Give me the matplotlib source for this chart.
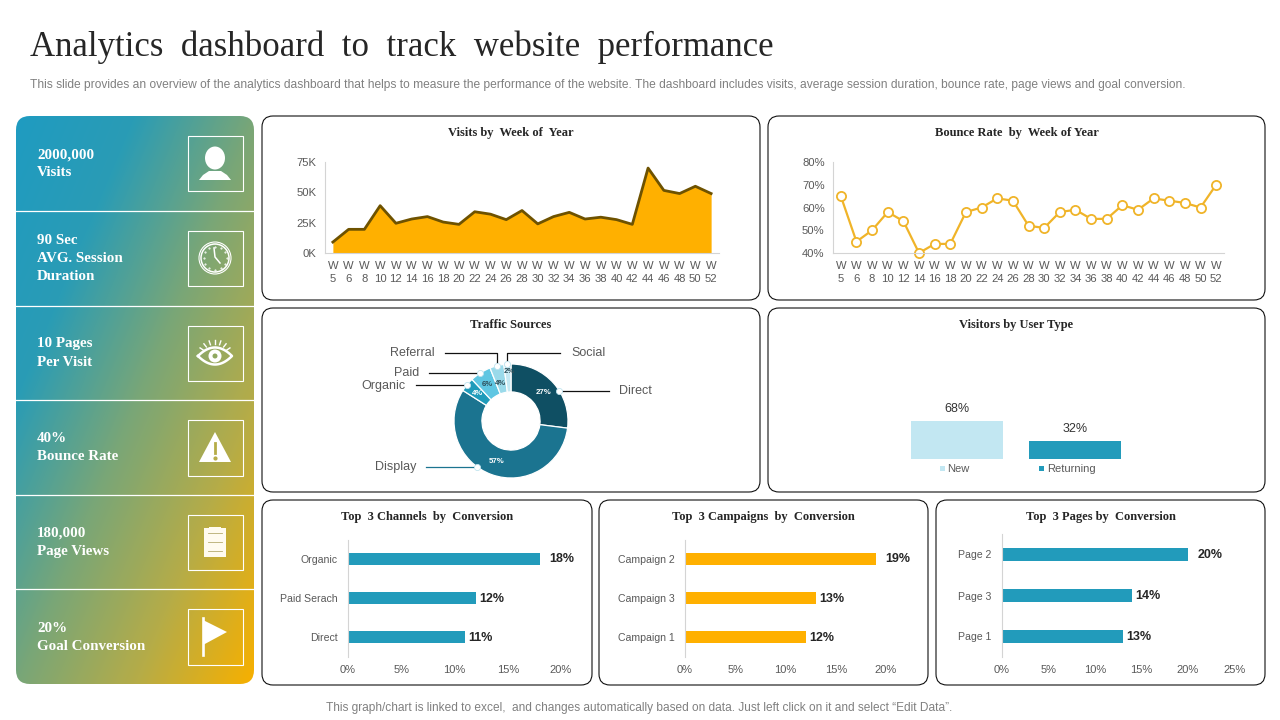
import numpy as np
import matplotlib
matplotlib.use('Agg')
import matplotlib.pyplot as plt
from matplotlib.colors import LinearSegmentedColormap
from matplotlib.patches import FancyBboxPatch, Circle, Rectangle, Polygon, Ellipse

plt.rcParams['font.family'] = ['Liberation Sans', 'DejaVu Sans']

W, H = 1280, 720

# data
weeks = [5, 6, 8, 10, 12, 14, 16, 18, 20, 22, 24, 26, 28, 30, 32, 34, 36, 38, 40, 42, 44, 46, 48, 50, 52]
week_labels = [f'W\n{w}' for w in weeks]
visits = [9, 19.5, 19.5, 39, 24.5, 28, 30, 25.5, 23.6, 34, 32, 27.5, 35, 24, 30, 33.5, 28, 29.5, 27.5, 23.6, 70, 51.6, 49, 55, 49]
bounce = [65, 45, 50, 58, 54, 40, 44, 44, 58, 60, 64, 63, 52, 51, 58, 59, 55, 55, 61, 59, 64, 63, 62, 60, 70]

traffic_names = ['Direct', 'Display', 'Organic', 'Paid', 'Referral', 'Social']
traffic_vals = [27, 57, 4, 6, 4, 2]
traffic_colors = ['#0F4F63', '#1B7490', '#1F9BBA', '#5FC6E2', '#9ADAEA', '#C5E9F3']

user_types = ['New', 'Returning']
user_vals = [68, 32]

channels = ['Organic', 'Paid Serach', 'Direct']
channel_vals = [18, 12, 11]
campaigns = ['Campaign 2', 'Campaign 3', 'Campaign 1']
campaign_vals = [19, 13, 12]
pages = ['Page 2', 'Page 3', 'Page 1']
page_vals = [20, 14, 13]

kpi_text = [
    ('2000,000\nVisits', 164),
    ('90 Sec\nAVG. Session\nDuration', 258.5),
    ('10 Pages\nPer Visit', 353),
    ('40%\nBounce Rate', 448),
    ('180,000\nPage Views', 542),
    ('20%\nGoal Conversion', 637),
]

GREY = '#595959'
AXIS = '#D4D4D4'
SERIF = 'Liberation Serif'

fig = plt.figure(figsize=(W / 100, H / 100), dpi=100, facecolor='white')


def px_axes(l, t, r, b, z=2):
    # axes placed by reference pixel box
    ax = fig.add_axes([l / W, 1 - b / H, (r - l) / W, (b - t) / H], zorder=z)
    ax.patch.set_alpha(0)
    return ax


def overlay(z):
    ax = fig.add_axes([0, 0, 1, 1], zorder=z)
    ax.patch.set_alpha(0)
    ax.axis('off')
    ax.set_xlim(0, W)
    ax.set_ylim(H, 0)
    return ax


bg = overlay(0)
top = overlay(5)

# title block
bg.text(30, 56, 'Analytics  dashboard  to  track  website  performance', family=SERIF, fontsize=25.05,
        color='#262626', va='baseline')
bg.text(30, 85.3, 'This slide provides an overview of the analytics dashboard that helps to measure the performance of the website. '
        'The dashboard includes visits, average session duration, bounce rate, page views and goal conversion.',
        fontsize=8.62, color='#808080', va='center')
bg.text(639.5, 708.5, 'This graph/chart is linked to excel,  and changes automatically based on data. Just left click on it and select \u201cEdit Data\u201d.',
        fontsize=8.6, color='#808080', va='center', ha='center')

# gradient KPI panel
cmap = LinearSegmentedColormap.from_list('kpi', [(0, '#1F9BC1'), (0.25, '#2A9CB5'), (0.5, '#78A678'),
                                                 (0.75, '#B5AC48'), (1, '#F7B000')])
xx, yy = np.meshgrid(np.linspace(0, 1, 240), np.linspace(0, 1, 570))
im = bg.imshow(0.5 * xx + 0.5 * yy, cmap=cmap, extent=(16, 254, 684, 116), aspect='auto', vmin=0, vmax=1)
clip = FancyBboxPatch((16, 116), 238, 568, boxstyle='round,pad=0,rounding_size=14', fc='none', ec='none')
bg.add_patch(clip)
im.set_clip_path(clip)
bg.set_xlim(0, W)
bg.set_ylim(H, 0)

for y in [211, 305.5, 400, 495, 589]:
    bg.plot([16, 254], [y, y], color='white', lw=0.9)
for s, y in kpi_text:
    bg.text(37, y, s, family=SERIF, fontweight='bold', fontsize=10.8, color='white', va='center', linespacing=1.5)
for y0, y1 in [(136, 191), (231, 286), (326, 381), (420, 476), (515, 570), (609, 665)]:
    bg.add_patch(Rectangle((188, y0), 54.5, y1 - y0, fc='none', ec='white', lw=0.8))

# icons
bg.add_patch(Polygon([(199, 180), (203, 175), (209, 171), (221, 171), (227, 175), (231, 180)], fc='white', ec='none'))
bg.add_patch(Ellipse((215, 158), 20, 23, fc='white', ec='none'))

bg.add_patch(Circle((215, 258), 16, fc='none', ec='white', lw=0.8))
bg.add_patch(Circle((215, 258), 14, fc='none', ec='white', lw=1.1))
bg.plot([214, 215, 220], [248, 257, 263], color='white', lw=1.1)
for a in np.arange(0, 360, 30):
    r = np.radians(a)
    bg.plot([215 + 11.5 * np.sin(r)], [258 - 11.5 * np.cos(r)], '.', color='white', ms=1)

t = np.linspace(-1, 1, 40)
ex = 215 + 17 * t
bg.plot(np.r_[ex, ex[::-1]], np.r_[356 - 8.5 * (1 - t ** 2), (356 + 8.5 * (1 - t ** 2))[::-1]], color='white', lw=1.8)
bg.add_patch(Circle((215, 356), 6.5, fc='white', ec='none'))
bg.add_patch(Circle((215, 356), 2.5, fc='#8FA860', ec='none'))
for a in [-56, -38, -19, 0, 19, 38, 56]:
    r = np.radians(a)
    bg.plot([215 + 14 * np.sin(r), 215 + 18 * np.sin(r)], [358 - 14 * np.cos(r), 358 - 18 * np.cos(r)], color='white', lw=1)

bg.add_patch(Polygon([(215, 432), (199, 462), (231, 462)], fc='white', ec='none'))
bg.plot([215, 215], [443, 453], color='#B5AC48', lw=2)
bg.plot([215], [457.5], 'o', color='#B5AC48', ms=2)

bg.add_patch(Rectangle((204, 528), 22, 29, fc='#FFFBEF', ec='none'))
bg.add_patch(Rectangle((209, 526.5), 12, 3, fc='#FFFBEF', ec='none'))
for y in [533, 542, 551]:
    bg.plot([208, 222], [y, y], color='#B5AC70', lw=0.6)

bg.plot([203, 203], [618, 655], color='white', lw=1.9)
bg.add_patch(Polygon([(203, 620), (227, 632), (203, 645)], fc='white', ec='none'))

# chart frames and headings
frames = [
    (262, 116, 760, 300, 'Visits by  Week of  Year'),
    (768, 116, 1265, 300, 'Bounce Rate  by  Week of Year'),
    (262, 308, 760, 492, 'Traffic Sources'),
    (768, 308, 1265, 492, 'Visitors by User Type'),
    (262, 500, 592, 685, 'Top  3 Channels  by  Conversion'),
    (599, 500, 928, 685, 'Top  3 Campaigns  by  Conversion'),
    (936, 500, 1265, 685, 'Top  3 Pages by  Conversion'),
]
for l, t_, r, b, name in frames:
    bg.add_patch(FancyBboxPatch((l, t_), r - l, b - t_, boxstyle='round,pad=0,rounding_size=11', fc='white', ec='#111111', lw=0.8))
    bg.text((l + r) / 2, t_ + 20, name, family=SERIF, fontweight='bold', fontsize=9, color='#262626', ha='center', va='baseline')


def week_axis(ax, ylim, yticks, ylabels):
    ax.set_xlim(-0.5, len(weeks) - 0.5)
    ax.set_ylim(*ylim)
    ax.set_xticks(range(len(weeks)))
    ax.set_xticklabels(week_labels, fontsize=8.1, color=GREY, linespacing=1.35)
    ax.set_yticks(yticks)
    ax.set_yticklabels(ylabels, fontsize=8.1, color=GREY)
    ax.tick_params(axis='both', length=0)
    ax.tick_params(axis='x', pad=5.8)
    ax.tick_params(axis='y', pad=6)
    for s in ['top', 'right']:
        ax.spines[s].set_visible(False)
    for s in ['left', 'bottom']:
        ax.spines[s].set_color(AXIS)
        ax.spines[s].set_linewidth(0.8)


# visits area
ax = px_axes(325, 162, 719, 253)
xs = np.arange(len(weeks))
ax.fill_between(xs, visits, 0, color='#FFB000', lw=0)
ax.plot(xs, visits, color='#6E5200', lw=2)
week_axis(ax, (0, 75), [0, 25, 50, 75], ['0K', '25K', '50K', '75K'])

# bounce line
ax = px_axes(833, 162, 1224, 253)
ax.plot(xs, bounce, color='#F0B429', lw=1.6, marker='o', ms=6.6, mfc='white', mec='#F0B429', mew=1.3, clip_on=False)
week_axis(ax, (40, 80), [40, 50, 60, 70, 80], ['40%', '50%', '60%', '70%', '80%'])

# traffic donut
ax = px_axes(454, 364, 568, 478)
wedges, texts, autotexts = ax.pie(traffic_vals, colors=traffic_colors, startangle=90, counterclock=False, radius=1,
                                  autopct='%d%%', pctdistance=0.76,
                                  wedgeprops=dict(width=0.49, edgecolor='white', linewidth=0.9),
                                  textprops=dict(fontsize=5.6, fontweight='bold'))
for i, a in enumerate(autotexts):
    a.set_color('white' if i < 3 else '#2F4F5A')
# the two smallest slices would collide, so their labels sit as in the slide
autotexts[4].set_position((-0.18, 0.66))
autotexts[5].set_position((-0.02, 0.86))
ax.set_xlim(-1, 1)
ax.set_ylim(-1, 1)

leaders = [
    ([558.5, 609], [391, 391], '#111111', 619, 391.5, 'Direct', 'left'),
    ([477, 426], [466.5, 466.5], '#1B7490', 416, 467, 'Display', 'right'),
    ([467, 416], [385, 385], '#111111', 406, 385.5, 'Organic', 'right'),
    ([480, 429], [373, 373], '#111111', 419, 373.5, 'Paid', 'right'),
    ([497, 497, 445], [366, 353, 353], '#111111', 435, 353.5, 'Referral', 'right'),
    ([507, 507, 560], [364, 353, 353], '#111111', 571, 353.5, 'Social', 'left'),
]
for lx, ly, col, tx, ty, name, ha in leaders:
    top.plot(lx, ly, color=col, lw=0.9)
    top.plot(lx[0], ly[0], 'o', ms=4.4, mfc='white', mec='#BFE3EE', mew=0.6)
    top.text(tx, ty, name, fontsize=9, color=GREY, ha=ha, va='center')

# user type columns
ax = px_axes(898, 403, 1134, 459)
ax.bar([0, 1], user_vals, width=0.785, color=['#C2E7F2', '#229BBB'])
ax.set_xlim(-0.5, 1.5)
ax.set_ylim(0, 100)
ax.axis('off')
for i, v in enumerate(user_vals):
    ax.annotate(f'{v}%', (i, v), xytext=(0, 4.5), textcoords='offset points', ha='center', va='bottom',
                fontsize=9, color='#333333', annotation_clip=False)
for sx, tx, col, name in [(940, 947, '#C2E7F2', user_types[0]), (1039, 1047, '#229BBB', user_types[1])]:
    top.add_patch(Rectangle((sx, 465.5), 5, 5, fc=col, ec='none'))
    top.text(tx, 468.5, name, fontsize=8, color=GREY, va='center')


def hbars(box, names, vals, color, xmax, gap=9.5):
    ax = px_axes(*box)
    ys = np.arange(len(names))
    ax.barh(ys, vals, height=0.31, color=color)
    ax.set_ylim(len(names) - 0.5, -0.5)
    ax.set_xlim(0, xmax)
    ax.set_yticks(ys)
    ax.set_yticklabels(names, fontsize=7.6, color=GREY)
    ax.set_xticks(np.arange(0, xmax + 1, 5))
    ax.set_xticklabels([f'{v}%' for v in np.arange(0, xmax + 1, 5)], fontsize=8, color=GREY)
    ax.tick_params(axis='both', length=0)
    ax.tick_params(axis='y', pad=7.5)
    ax.tick_params(axis='x', pad=6)
    for s in ['top', 'right', 'bottom']:
        ax.spines[s].set_visible(False)
    ax.spines['left'].set_color(AXIS)
    ax.spines['left'].set_linewidth(0.8)
    for i, v in enumerate(vals):
        off = gap if i == 0 else 3.5
        ax.annotate(f'{v}%', (v, i), xytext=(off * 0.72, 0 if i == 0 else -0.7), textcoords='offset points',
                    va='center', fontsize=9, fontweight='bold', color='#262626', annotation_clip=False)


hbars((348, 539.5, 561, 656.5), channels, channel_vals, '#229BBB', 20)
hbars((685, 539.5, 886, 656.5), campaigns, campaign_vals, '#FFB000', 20)
hbars((1002, 534, 1234.5, 657), pages, page_vals, '#229BBB', 25)

fig.savefig('out.png', dpi=100, facecolor='white')
